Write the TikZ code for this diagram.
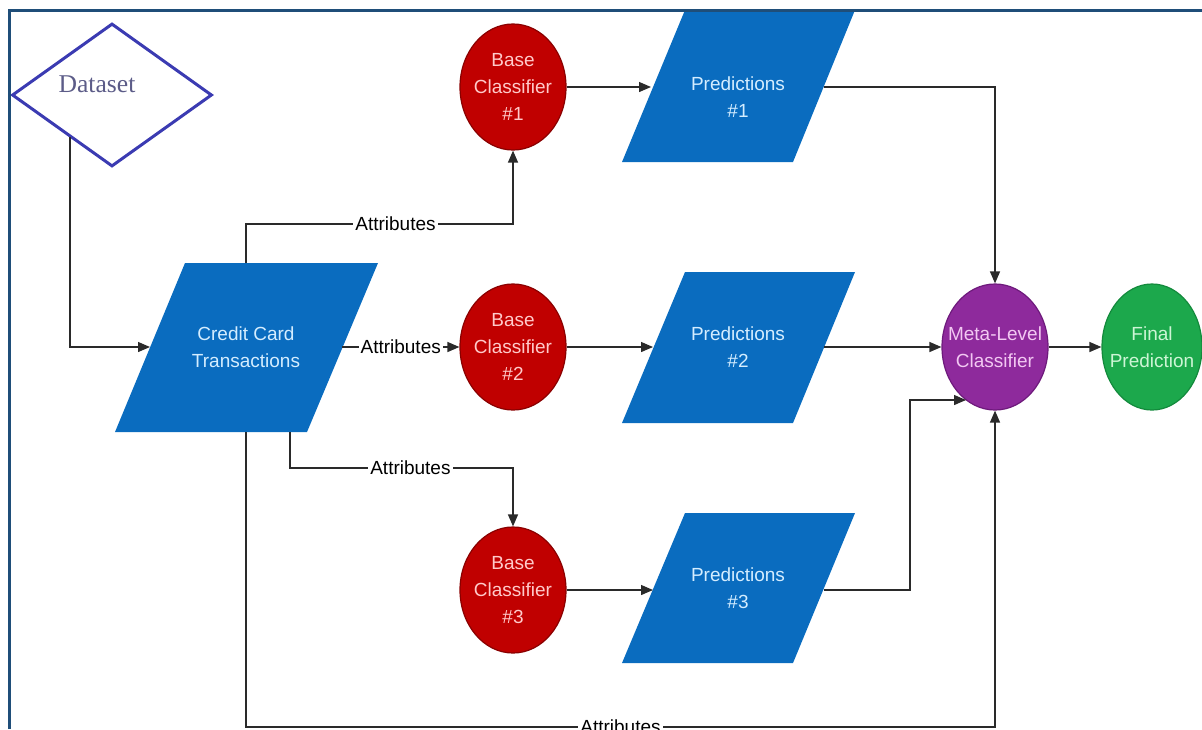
\documentclass[tikz,border=0pt]{standalone}
\usepackage{fontspec}
\setmainfont{Liberation Serif}
\setsansfont{Liberation Sans}
\usetikzlibrary{shapes.geometric,arrows.meta}
\definecolor{frameblue}{HTML}{1F4E79}
\definecolor{parblue}{HTML}{0A6CBF}
\definecolor{partext}{HTML}{D4EDFF}
\definecolor{bcred}{HTML}{C00000}
\definecolor{bcedge}{HTML}{8A0000}
\definecolor{bctext}{HTML}{FFCACA}
\definecolor{metapurple}{HTML}{8E2A9C}
\definecolor{metaedge}{HTML}{6E1A7C}
\definecolor{metatext}{HTML}{F2C8F2}
\definecolor{fingreen}{HTML}{1CA84C}
\definecolor{finedge}{HTML}{138A3C}
\definecolor{fintext}{HTML}{CDF5D5}
\definecolor{dsblue}{HTML}{3B3BB2}
\definecolor{dstext}{HTML}{5C5C88}
\definecolor{linegray}{HTML}{2A2A2A}
\begin{document}
\begin{tikzpicture}[x=0.5pt,y=-0.5pt,
  txt/.style={font=\sffamily\fontsize{9.5}{13.5}\selectfont, align=center, inner sep=0pt},
  ovalnode/.style={ellipse, minimum width=53pt, minimum height=63pt, inner sep=0pt, line width=0.6pt},
  bcnode/.style={ovalnode, fill=bcred, draw=bcedge},
  metanode/.style={ovalnode, fill=metapurple, draw=metaedge},
  finnode/.style={ovalnode, minimum width=50pt, fill=fingreen, draw=finedge},
  parshape/.style={fill=parblue},
  conn/.style={draw=linegray, line width=0.65pt},
  arr/.style={conn, -{Triangle[length=6pt,width=5pt]}},
  attr/.style={txt, text=black, fill=white, inner sep=1pt}
]
\useasboundingbox (0,0) rectangle (1202,729);

% Dataset
\node[diamond, draw=dsblue, line width=1.5pt, minimum width=100pt, minimum height=71.5pt, inner sep=0pt] (ds) at (112,95) {};
\node[font=\rmfamily\fontsize{12.8}{14}\selectfont, text=dstext, inner sep=0pt] (dstxt) at (97,84) {Dataset};

% Credit card transactions
\fill[parshape] (185,263) -- (378,263) -- (307,432) -- (115,432) -- cycle;
\node[txt, text=partext] (cc) at (246,347) {Credit Card\\Transactions};

% Predictions
\fill[parshape] (685,10) -- (855,10) -- (793,162) -- (622,162) -- cycle;
\node[txt, text=partext] (p1) at (738,97) {Predictions\\\#1};
\fill[parshape] (685,272) -- (855,272) -- (793,423) -- (622,423) -- cycle;
\node[txt, text=partext] (p2) at (738,347) {Predictions\\\#2};
\fill[parshape] (685,513) -- (855,513) -- (793,663) -- (622,663) -- cycle;
\node[txt, text=partext] (p3) at (738,588) {Predictions\\\#3};

% Classifiers
\node[bcnode, label={[txt, text=bctext]center:{Base\\Classifier\\\#1}}] (bc1) at (513,87) {};
\node[bcnode, label={[txt, text=bctext]center:{Base\\Classifier\\\#2}}] (bc2) at (513,347) {};
\node[bcnode, label={[txt, text=bctext]center:{Base\\Classifier\\\#3}}] (bc3) at (513,590) {};
\node[metanode, label={[txt, text=metatext]center:{Meta-Level\\Classifier}}] (meta) at (995,347) {};
\node[finnode, label={[txt, text=fintext]center:{Final\\Prediction}}] (fin) at (1152,347) {};

% connection points on the parallelograms
\coordinate (dsout) at (70,137);
\coordinate (ccin) at (150,347);
\coordinate (cctop) at (246,263);
\coordinate (ccright) at (342,347);
\coordinate (ccbotA) at (290,432);
\coordinate (ccbotB) at (246,432);
\coordinate (p1in) at (651,87);
\coordinate (p1out) at (824,87);
\coordinate (p2in) at (653,347);
\coordinate (p2out) at (824,347);
\coordinate (p3in) at (653,590);
\coordinate (p3out) at (824,590);
\coordinate (m3) at (966,400);

% connectors
\draw[arr] (dsout) |- (ccin);
\draw[arr] (cctop) -- (246,224) -- node[attr, pos=0.56] {Attributes} (513,224) -- (bc1.south);
\draw[arr] (ccright) -- node[attr] {Attributes} (bc2.west);
\draw[arr] (ccbotA) -- (290,468) -- node[attr, pos=0.54] {Attributes} (513,468) -- (bc3.north);
\draw[arr] (ccbotB) -- (246,727) -- node[attr] {Attributes} (995,727) -- (meta.south);
\draw[arr] (bc1.east) -- (p1in);
\draw[arr] (bc2.east) -- (p2in);
\draw[arr] (bc3.east) -- (p3in);
\draw[arr] (p1out) -- (995,87) -- (meta.north);
\draw[arr] (p2out) -- (meta.west);
\draw[arr] (p3out) -- (910,590) -- (910,400) -- (m3);
\draw[arr] (meta.east) -- (fin.west);

% frame
\draw[frameblue, line width=1.5pt] (9,729) -- (9,10) -- (1202,10);
\end{tikzpicture}
\end{document}
